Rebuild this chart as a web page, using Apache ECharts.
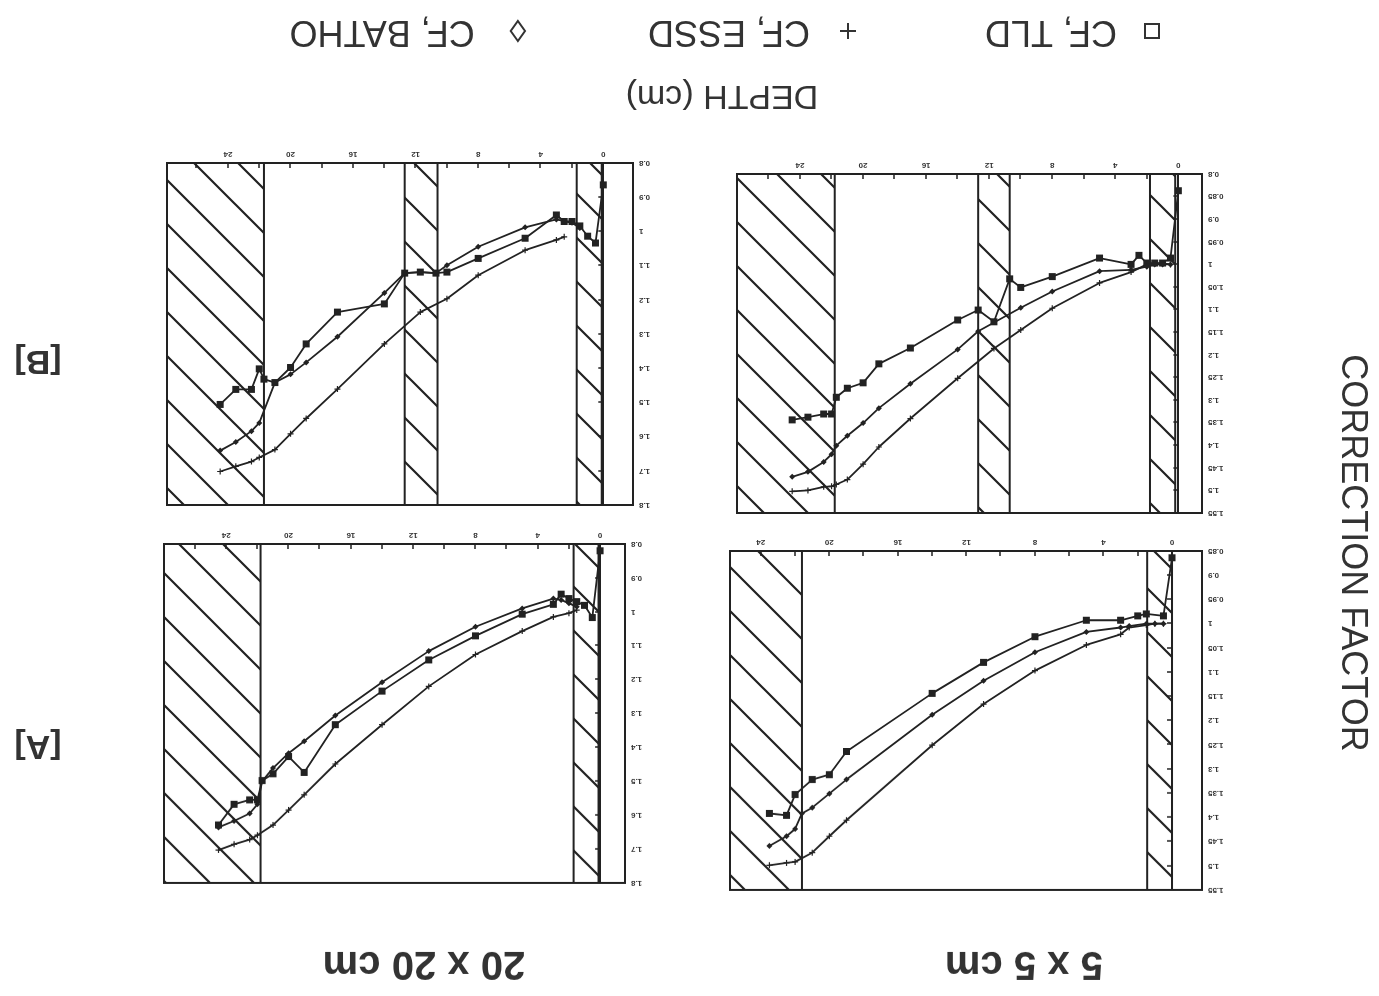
<!DOCTYPE html>
<html>
<head>
<meta charset="utf-8">
<script src="https://cdn.jsdelivr.net/npm/echarts@6/dist/echarts.min.js"></script>
<style>
  html, body { margin: 0; padding: 0; background: #fff; overflow: hidden; }
  /* the scanned figure is upside down, so the whole chart is turned 180deg */
  #chart { width: 1379px; height: 996px; transform: rotate(180deg); }
</style>
</head>
<body>
<div id="chart"></div>
<script>
// ---- data (depth in cm, correction factor) ----
// 5 x 5 cm, [A]
const A5_TLD_DEPTH = [0, 0.5, 1.5, 2, 3, 5, 8, 11, 14, 19, 20, 21, 22, 22.5, 23.5];
const A5_TLD_CF = [0.864, 0.984, 0.98, 0.984, 0.993, 0.993, 1.027, 1.08, 1.144, 1.264, 1.312, 1.322, 1.353, 1.396, 1.392];
const A5_ESSD_DEPTH = [0.5, 1, 1.5, 2.5, 3, 5, 8, 11, 14, 19, 20, 21, 22, 22.5, 23.5];
const A5_ESSD_CF = [1.0, 1.0, 1.003, 1.008, 1.022, 1.044, 1.097, 1.166, 1.251, 1.406, 1.439, 1.473, 1.492, 1.494, 1.499];
const A5_BATHO_DEPTH = [0.5, 1, 1.5, 2.5, 3, 5, 8, 11, 14, 19, 20, 21, 21.6, 22, 22.5, 23.5];
const A5_BATHO_CF = [1.0, 1.0, 1.0, 1.005, 1.008, 1.017, 1.059, 1.118, 1.188, 1.322, 1.351, 1.38, 1.392, 1.424, 1.439, 1.459];

// 20 x 20 cm, [A]
const A20_TLD_DEPTH = [0, 0.5, 1, 1.5, 2, 2.5, 3, 5, 8, 11, 14, 17, 19, 20, 21, 21.7, 22, 22.5, 23.5, 24.5];
const A20_TLD_CF = [0.82, 1.017, 0.981, 0.97, 0.961, 0.948, 0.978, 1.007, 1.071, 1.142, 1.234, 1.333, 1.474, 1.427, 1.478, 1.498, 1.555, 1.555, 1.568, 1.629];
const A20_ESSD_DEPTH = [1.5, 2, 3, 5, 8, 11, 14, 17, 19, 20, 21, 22, 22.5, 23.5, 24.5];
const A20_ESSD_CF = [0.995, 1.004, 1.015, 1.057, 1.126, 1.22, 1.333, 1.449, 1.54, 1.585, 1.629, 1.659, 1.672, 1.686, 1.703];
const A20_BATHO_DEPTH = [1.5, 2, 2.5, 3, 5, 8, 11, 14, 17, 19, 20, 21, 21.7, 22, 22.5, 23.5, 24.5];
const A20_BATHO_CF = [0.985, 0.975, 0.965, 0.961, 0.99, 1.044, 1.116, 1.208, 1.306, 1.382, 1.417, 1.461, 1.5, 1.568, 1.595, 1.617, 1.636];

// 5 x 5 cm, [B]
const B5_TLD_DEPTH = [0, 0.5, 1, 1.5, 2, 2.5, 3, 5, 8, 10, 10.7, 11.7, 12.7, 14, 17, 19, 20, 21, 21.7, 22, 22.5, 23.5, 24.5];
const B5_TLD_CF = [0.837, 0.986, 0.997, 0.997, 0.997, 0.98, 1.0, 0.986, 1.027, 1.051, 1.032, 1.127, 1.101, 1.123, 1.185, 1.22, 1.262, 1.274, 1.294, 1.331, 1.331, 1.338, 1.344];
const B5_ESSD_DEPTH = [0.5, 1, 1.5, 2, 3, 5, 8, 10, 11.7, 14, 17, 19, 20, 21, 21.7, 22, 22.5, 23.5, 24.5];
const B5_ESSD_CF = [1.0, 0.998, 0.998, 1.0, 1.017, 1.041, 1.097, 1.145, 1.186, 1.252, 1.341, 1.404, 1.442, 1.476, 1.487, 1.491, 1.492, 1.5, 1.502];
const B5_BATHO_DEPTH = [0.5, 1, 1.5, 2, 3, 5, 8, 10, 12.7, 14, 17, 19, 20, 21, 21.7, 22, 22.5, 23.5, 24.5];
const B5_BATHO_CF = [1.0, 1.0, 1.0, 1.005, 1.012, 1.015, 1.06, 1.096, 1.148, 1.188, 1.264, 1.318, 1.351, 1.379, 1.401, 1.42, 1.437, 1.459, 1.47];

// 20 x 20 cm, [B]
const B20_TLD_DEPTH = [0, 0.5, 1, 1.5, 2, 2.5, 3, 5, 8, 10, 10.7, 11.7, 12.7, 14, 17, 19, 20, 21, 21.7, 22, 22.5, 23.5, 24.5];
const B20_TLD_CF = [0.864, 1.034, 1.014, 0.984, 0.971, 0.971, 0.952, 1.02, 1.079, 1.119, 1.122, 1.119, 1.122, 1.212, 1.236, 1.329, 1.398, 1.442, 1.432, 1.402, 1.462, 1.462, 1.506];
const B20_ESSD_DEPTH = [2.5, 3, 5, 8, 10, 11.7, 14, 17, 19, 20, 21, 22, 22.5, 23.5, 24.5];
const B20_ESSD_CF = [1.016, 1.025, 1.055, 1.128, 1.197, 1.236, 1.329, 1.461, 1.547, 1.592, 1.638, 1.661, 1.673, 1.687, 1.702];
const B20_BATHO_DEPTH = [1.5, 2, 2.5, 3, 5, 8, 10, 10.7, 11.7, 12.7, 14, 17, 19, 20, 21, 22, 22.5, 23.5, 24.5];
const B20_BATHO_CF = [0.99, 0.975, 0.97, 0.965, 0.988, 1.045, 1.099, 1.122, 1.119, 1.122, 1.18, 1.308, 1.383, 1.418, 1.442, 1.56, 1.584, 1.616, 1.641];

// hatched slabs [from, to] in cm
const A5_SLABS = [[0, 1.45], [21.6, 30]];
const A20_SLABS = [[0.1, 1.7], [21.8, 30]];
const B5_SLABS = [[0.2, 1.8], [10.7, 12.7], [21.8, 30]];
const B20_SLABS = [[0.1, 1.7], [10.6, 12.7], [21.7, 30]];

// axis ticks
const DEPTH_LABELS = [0, 4, 8, 12, 16, 20, 24];
const DEPTH_TICKS = [0, 2, 4, 6, 8, 10, 12, 14, 16, 18, 20, 22, 24, 26];

const NAME_TLD = 'CF, TLD';
const NAME_ESSD = 'CF, ESSD';
const NAME_BATHO = 'CF, BATHO';

const INK = '#222';
const TEXT = '#333';
const FONT = "'Liberation Sans', Arial, sans-serif";

const PLUS = 'path://M4,0H6V4H10V6H6V10H4V6H0V4H4Z';

// hatch pattern
function makeHatch() {
    const s = 44;
    const c = document.createElement('canvas');
    c.width = s;
    c.height = s;
    const ctx = c.getContext('2d');
    ctx.strokeStyle = INK;
    ctx.lineWidth = 2.2;
    ctx.beginPath();
    ctx.moveTo(-4, -4); ctx.lineTo(s + 4, s + 4);
    ctx.moveTo(-4, s - 4); ctx.lineTo(4, s + 4);
    ctx.moveTo(s - 4, -4); ctx.lineTo(s + 4, 4);
    ctx.stroke();
    return c;
}
const hatch = makeHatch();

// panels: grid box in px, depth range, cf range
const panels = [
    {left: 177, top: 106, width: 472, height: 339, xMin: -1.75, xMax: 25.8, yMin: 0.85, yMax: 1.55, yStep: 0.05,
        tld: [A5_TLD_DEPTH, A5_TLD_CF], essd: [A5_ESSD_DEPTH, A5_ESSD_CF], batho: [A5_BATHO_DEPTH, A5_BATHO_CF], slabs: A5_SLABS},
    {left: 754, top: 113, width: 461, height: 339, xMin: -1.6, xMax: 28.0, yMin: 0.8, yMax: 1.8, yStep: 0.1,
        tld: [A20_TLD_DEPTH, A20_TLD_CF], essd: [A20_ESSD_DEPTH, A20_ESSD_CF], batho: [A20_BATHO_DEPTH, A20_BATHO_CF], slabs: A20_SLABS},
    {left: 177, top: 483, width: 465, height: 339, xMin: -1.5, xMax: 28.0, yMin: 0.8, yMax: 1.55, yStep: 0.05,
        tld: [B5_TLD_DEPTH, B5_TLD_CF], essd: [B5_ESSD_DEPTH, B5_ESSD_CF], batho: [B5_BATHO_DEPTH, B5_BATHO_CF], slabs: B5_SLABS},
    {left: 746, top: 491, width: 466, height: 342, xMin: -1.9, xMax: 27.9, yMin: 0.8, yMax: 1.8, yStep: 0.1,
        tld: [B20_TLD_DEPTH, B20_TLD_CF], essd: [B20_ESSD_DEPTH, B20_ESSD_CF], batho: [B20_BATHO_DEPTH, B20_BATHO_CF], slabs: B20_SLABS}
];

function pairs(xs, ys) {
    return xs.map((x, i) => [x, ys[i]]);
}

function lineSeries(name, idx, xy, symbol, size) {
    return {
        name: name,
        type: 'line',
        xAxisIndex: idx,
        yAxisIndex: idx,
        data: pairs(xy[0], xy[1]),
        symbol: symbol,
        symbolSize: size,
        showAllSymbol: true,
        lineStyle: {color: INK, width: 1.8},
        itemStyle: {color: INK, borderColor: INK, borderWidth: 0},
        emphasis: {disabled: true},
        z: 3
    };
}

const grids = [];
const xAxes = [];
const yAxes = [];
const series = [];

panels.forEach((p, i) => {
    grids.push({
        left: p.left, top: p.top, width: p.width, height: p.height,
        show: true, borderColor: INK, borderWidth: 2, backgroundColor: 'transparent'
    });
    xAxes.push({
        type: 'value', gridIndex: i, min: p.xMin, max: p.xMax, position: 'bottom',
        axisLine: {show: true, lineStyle: {color: INK, width: 2}},
        axisTick: {show: true, inside: true, length: 5, lineStyle: {color: INK, width: 1.5},
            customValues: DEPTH_TICKS.filter(v => v < p.xMax)},
        axisLabel: {show: true, margin: 5, fontSize: 8, fontWeight: 'bold', color: TEXT, fontFamily: FONT,
            customValues: DEPTH_LABELS},
        splitLine: {show: false}
    });
    yAxes.push({
        type: 'value', gridIndex: i, min: p.yMin, max: p.yMax, interval: p.yStep, position: 'left',
        axisLine: {show: true, lineStyle: {color: INK, width: 2}},
        axisTick: {show: true, inside: true, length: 5, lineStyle: {color: INK, width: 1.5}},
        axisLabel: {show: true, margin: 6, fontSize: 8, fontWeight: 'bold', color: TEXT, fontFamily: FONT,
            formatter: v => String(Math.round(v * 100) / 100)},
        splitLine: {show: false}
    });

    const tld = lineSeries(NAME_TLD, i, p.tld, 'rect', 7);
    tld.markArea = {
        silent: true,
        itemStyle: {color: {image: hatch, repeat: 'repeat'}, borderColor: INK, borderWidth: 2, opacity: 1},
        data: p.slabs.map(s => [{xAxis: s[0]}, {xAxis: Math.min(s[1], p.xMax)}])
    };
    series.push(tld);
    series.push(lineSeries(NAME_ESSD, i, p.essd, PLUS, 6));
    series.push(lineSeries(NAME_BATHO, i, p.batho, 'diamond', 6));
});

function legendAt(name, icon, left, itemWidth, itemHeight) {
    return {
        left: left, top: 946, padding: 0, selectedMode: false,
        itemWidth: itemWidth, itemHeight: itemHeight, symbolKeepAspect: true,
        textStyle: {fontSize: 36, color: TEXT, fontFamily: FONT, lineHeight: 38},
        data: [{name: name, icon: icon,
            itemStyle: {color: 'transparent', borderColor: TEXT, borderWidth: 2}}]
    };
}

function label(text, x, y, size, weight, rot) {
    return {
        type: 'text', x: x, y: y, rotation: rot || 0, silent: true,
        style: {text: text, fill: TEXT, fontSize: size, fontWeight: weight, fontFamily: FONT,
            align: 'center', verticalAlign: 'middle'}
    };
}

const chart = echarts.init(document.getElementById('chart'), null, {renderer: 'canvas'});
chart.setOption({
    backgroundColor: '#fff',
    animation: false,
    grid: grids,
    xAxis: xAxes,
    yAxis: yAxes,
    legend: [
        legendAt(NAME_TLD, 'path://M0,0H10V10H0Z', 219, 60, 14),
        legendAt(NAME_ESSD, 'path://M5,0V10M0,5H10', 522, 66, 16),
        legendAt(NAME_BATHO, 'path://M5,0L10,7L5,14L0,7Z', 853, 76, 20)
    ],
    graphic: [
        label('5 x 5 cm', 355, 33, 40, 'bold'),
        label('20 x 20 cm', 955, 33, 40, 'bold'),
        label('[A]', 1341, 251, 34, 'bold'),
        label('[B]', 1341, 636, 34, 'bold'),
        label('CORRECTION FACTOR', 27, 443, 36, 'normal', Math.PI / 2),
        label('DEPTH (cm)', 657, 901, 34, 'normal')
    ],
    series: series
});
</script>
</body>
</html>
